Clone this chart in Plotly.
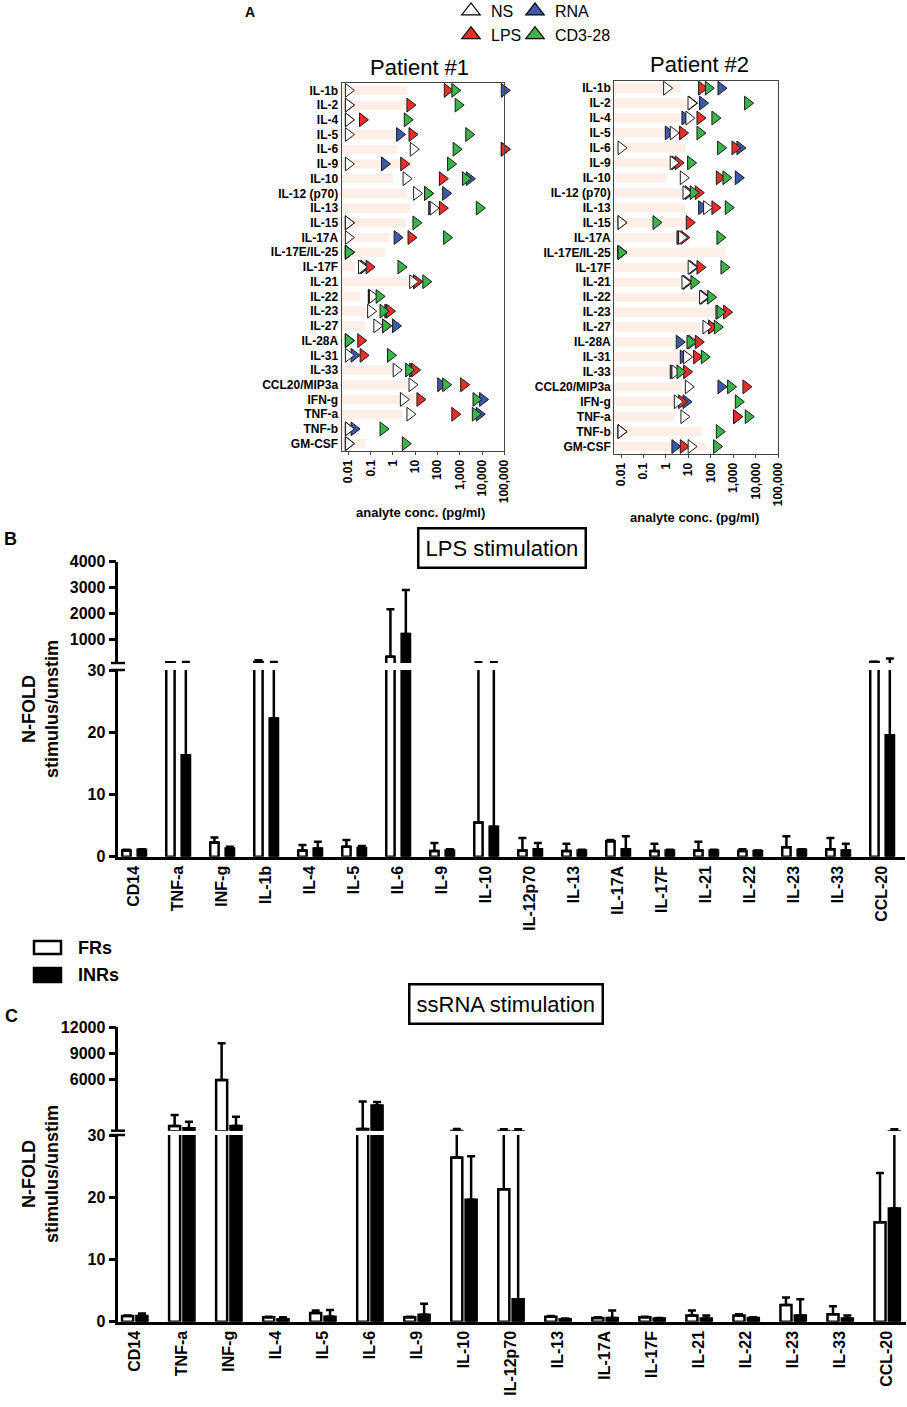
import plotly.graph_objects as go

W, H = 907, 1407

# ---- Panel A: analyte concentrations (pg/ml), rows top to bottom
analytes = ["IL-1b", "IL-2", "IL-4", "IL-5", "IL-6", "IL-9", "IL-10", "IL-12 (p70)",
            "IL-13", "IL-15", "IL-17A", "IL-17E/IL-25", "IL-17F", "IL-21", "IL-22",
            "IL-23", "IL-27", "IL-28A", "IL-31", "IL-33", "CCL20/MIP3a", "IFN-g",
            "TNF-a", "TNF-b", "GM-CSF"]

p1_ns = [0.01, 0.01, 0.01, 0.01, 8.2, 0.01, 3.9, 11.6, 64, 0.01, 0.01, 0.01, 0.039,
         7.7, 0.12, 0.10, 0.19, 0.01, 0.01, 1.4, 7.2, 2.95, 5.8, 0.01, 0.01]
p1_lps = [276, 5.8, 0.043, 7.2, 100000, 3.05, 166, 36, 166, 0.01, 6.5, 0.01, 0.085,
          11.6, 0.108, 0.70, 0.47, 0.036, 0.046, 9.4, 1500, 16.3, 600, 0.01, 0.01]
p1_rna = [100000, 0.01, 0.01, 2.0, 100000, 0.42, 2700, 233, 55, 0.01, 1.55, 0.01, 0.049,
          11.6, 0.108, 0.59, 1.3, 0.01, 0.018, 7.7, 140, 10600, 7550, 0.018, 0.01]
p1_cd3 = [600, 850, 4.4, 2540, 690, 388, 1800, 36, 7550, 10.8, 258, 0.01, 2.3,
          30, 0.24, 0.36, 0.47, 0.01, 0.78, 5.1, 233, 5370, 5000, 0.36, 3.6]
p1_range = [4.3, 5.5, None, 1.9, 1.55, 7.2, 1.0, 4.3, 6.0, 3.6, 0.70, 0.45, 0.02,
            5.5, 0.033, 0.055, 0.055, 0.014, None, 1.0, 4.6, 10, 2.75, 0.033, 0.06]

p2_ns = [1.07, 13, 10.5, 2.1, 0.01, 2.1, 5.9, 7.8, 64.5, 0.01, 5.0, 0.01, 13.2,
         7.0, 42.7, 230, 60, 13.9, 8.3, 2.5, 9.9, 3.2, 6.3, 0.01, 13.2]
p2_lps = [38.6, 13.9, 32.6, 5.5, 1180, 3.5, 237, 27.5, 151, 10.9, 6.3, 0.01, 32.6,
          8.3, 50, 501, 108, 27.5, 23.2, 8.3, 3630, 5.0, 1400, 0.01, 5.9]
p2_rna = [281, 42.7, 7.0, 1.27, 1960, 2.5, 1660, 9.9, 38.6, 0.01, 4.2, 0.01, 15.4,
          7.8, 45.8, 237, 108, 3.9, 5.9, 2.1, 281, 7.8, 1400, 0.01, 2.5]
p2_cd3 = [76.6, 4300, 151, 32.6, 271, 12.5, 468, 16.4, 594, 0.36, 253, 0.01, 381,
          17.6, 97, 253, 193, 11.7, 50.8, 4.2, 755, 1660, 4610, 237, 180]
p2_range = [4.6, 8.3, 4.2, 1.8, 7.5, 1.8, 1.07, 7.0, 7.0, 11.7, 11.7, 452, 9.9,
            4.2, 237, 180, 32.6, 45.8, 13.9, 1.5, 5.0, 3.0, 2.35, 36, 58]

conc_ticks = [0.01, 0.1, 1, 10, 100, 1000, 10000, 100000]
conc_ticktext = ["0.01", "0.1", "1", "10", "100", "1,000", "10,000", "100,000"]

# ---- Panel B: LPS stimulation, N-fold stimulus/unstim (mean, upper SD)
cats_b = ["CD14", "TNF-a", "INF-g", "IL-1b", "IL-4", "IL-5", "IL-6", "IL-9", "IL-10",
          "IL-12p70", "IL-13", "IL-17A", "IL-17F", "IL-21", "IL-22", "IL-23", "IL-33", "CCL-20"]
b_fr = [1.0, 95, 2.3, 110, 1.0, 1.6, 313, 0.9, 5.5, 1.0, 0.9, 2.5, 0.9, 1.0, 0.9, 1.5, 1.2, 110]
b_fr_err = [0.1, 5, 0.8, 70, 0.9, 1.1, 1840, 1.3, 95, 2.0, 1.2, 0.2, 1.2, 1.4, 0.3, 1.8, 1.8, 10]
b_inr = [1.1, 16.3, 1.3, 22.2, 1.3, 1.4, 1194, 1.0, 4.8, 1.2, 1.0, 1.2, 1.0, 1.0, 0.9, 1.1, 1.0, 19.5]
b_inr_err = [0.1, 94, 0.3, 88, 1.1, 0.3, 1706, 0.2, 95, 1.0, 0.1, 2.1, 0.1, 0.1, 0.1, 0.1, 1.1, 223]

# ---- Panel C: ssRNA stimulation
cats_c = ["CD14", "TNF-a", "INF-g", "IL-4", "IL-5", "IL-6", "IL-9", "IL-10", "IL-12p70",
          "IL-13", "IL-17A", "IL-17F", "IL-21", "IL-22", "IL-23", "IL-33", "CCL-20"]
c_fr = [0.9, 612, 5918, 0.7, 1.4, 266, 0.7, 26.4, 21.3, 0.8, 0.6, 0.7, 1.0, 1.0, 2.7, 1.2, 16.0]
c_fr_err = [0.1, 1270, 4230, 0.1, 0.4, 3160, 0.1, 230, 230, 0.1, 0.1, 0.1, 0.8, 0.2, 1.2, 1.3, 7.9]
c_inr = [0.9, 347, 612, 0.4, 0.8, 2970, 1.1, 19.6, 3.6, 0.4, 0.6, 0.5, 0.5, 0.6, 1.0, 0.5, 18.2]
c_inr_err = [0.4, 760, 1070, 0.3, 1.1, 410, 1.8, 7.0, 246, 0.1, 1.2, 0.1, 0.5, 0.1, 2.6, 0.5, 230]

RED, BLUE, GREEN, PINK = "#ec2d27", "#3c5aa8", "#3bb44a", "#fdeee8"
FONT = "Liberation Sans, Arial, sans-serif"
B_UPPER = [70, 4000]
C_UPPER = [70, 12000]


def fx(p):
    return p / W


def fy(p):
    return 1 - p / H


def dom_x(a, b):
    return [a / W, b / W]


def dom_y(top, bottom):
    return [1 - bottom / H, 1 - top / H]


fig = go.Figure()

# panel A: two patients
BASE = 0.001
patients = [("x", "y", p1_range, p1_ns, p1_lps, p1_rna, p1_cd3),
            ("x2", "y2", p2_range, p2_ns, p2_lps, p2_rna, p2_cd3)]
for xa, ya, rng, ns, lps, rna, cd3 in patients:
    fig.add_trace(go.Bar(y=analytes, x=[v - BASE if v else None for v in rng], base=BASE,
                         orientation="h", width=0.62, marker=dict(color=PINK, line=dict(width=0)),
                         xaxis=xa, yaxis=ya, showlegend=False, hoverinfo="skip"))
    for vals, col in [(rna, BLUE), (lps, RED), (ns, "white"), (cd3, GREEN)]:
        fig.add_trace(go.Scatter(x=vals, y=analytes, mode="markers", cliponaxis=False,
                                 marker=dict(symbol="triangle-right", size=12, color=col,
                                             line=dict(color="#1a1a1a", width=1)),
                                 xaxis=xa, yaxis=ya, showlegend=False))

# legend entries (triangles up, 2x2)
for name, col, lg in [("NS", "white", "legend"), ("LPS", RED, "legend"),
                      ("RNA", BLUE, "legend2"), ("CD3-28", GREEN, "legend2")]:
    fig.add_trace(go.Scatter(x=[None], y=[None], mode="markers", name=name, legend=lg,
                             marker=dict(symbol="triangle-up", size=16, color=col,
                                         line=dict(color="black", width=1.2)),
                             xaxis="x", yaxis="y"))


def upper_part(vals, errs, lo):
    # only bars / error bars that reach into the upper segment
    return [v if v + e > lo else None for v, e in zip(vals, errs)]


# panels B and C: broken y axis = lower and upper subplot sharing x
panels = [("x3", "y3", "y4", B_UPPER[0], cats_b, b_fr, b_fr_err, b_inr, b_inr_err, 0.19, -0.27, 0.08),
          ("x5", "y5", "y6", C_UPPER[0], cats_c, c_fr, c_fr_err, c_inr, c_inr_err, 0.235, -0.27, 0.035)]
for xa, y_lo, y_hi, lo, cats, fr, fr_err, inr, inr_err, bw, off_fr, off_inr in panels:
    for vals, err, fill, off in [(fr, fr_err, "white", off_fr), (inr, inr_err, "black", off_inr)]:
        for ya, yv in [(y_lo, vals), (y_hi, upper_part(vals, err, lo))]:
            fig.add_trace(go.Bar(
                x=cats, y=yv, width=bw, offset=off,
                marker=dict(color=fill, line=dict(color="black", width=2.5)),
                error_y=dict(type="data", array=err, arrayminus=[0] * len(err), symmetric=False,
                             color="black", thickness=2.5, width=4),
                xaxis=xa, yaxis=ya, showlegend=False, cliponaxis=True))

tf_bold = dict(family=FONT, size=16, color="black", weight="bold")
a_axis = dict(showline=True, mirror=True, linecolor="#444", linewidth=1.2, showgrid=False,
              zeroline=False)
yaxis_a = dict(a_axis, type="category", range=[len(analytes) - 0.5, -0.5], ticks="",
               tickfont=dict(family=FONT, size=12, color="black", weight="bold"))
xaxis_a = dict(a_axis, type="log", range=[-2.3, 5], tickvals=conc_ticks, ticktext=conc_ticktext,
               tickangle=-90, ticks="outside", ticklen=3, tickcolor="#444",
               tickfont=dict(family=FONT, size=12, color="black", weight="bold"))
bar_x = dict(type="category", showline=True, linecolor="black", linewidth=2.5, ticks="",
             tickangle=-90, tickfont=tf_bold, showgrid=False, zeroline=False)
bar_y = dict(showline=True, linecolor="black", linewidth=2.5, ticks="outside", ticklen=7,
             tickwidth=2.5, tickcolor="black", tickfont=tf_bold, showgrid=False, zeroline=False,
             tickformat="d")

fig.update_layout(
    width=W, height=H, margin=dict(l=0, r=0, t=0, b=0, autoexpand=False),
    paper_bgcolor="white", plot_bgcolor="rgba(0,0,0,0)", barmode="overlay",
    font=dict(family=FONT, color="black"),
    xaxis=dict(xaxis_a, domain=dom_x(341.7, 504.3), anchor="y"),
    yaxis=dict(yaxis_a, domain=dom_y(83, 451), anchor="x"),
    xaxis2=dict(xaxis_a, domain=dom_x(614.3, 778.3), anchor="y2"),
    yaxis2=dict(yaxis_a, domain=dom_y(80.7, 454), anchor="x2"),
    xaxis3=dict(bar_x, domain=dom_x(118.3, 905), anchor="y3", range=[-0.36, 17.52]),
    yaxis3=dict(bar_y, domain=dom_y(670, 856.7), anchor="x3", range=[0, 30], tickvals=[0, 10, 20, 30]),
    yaxis4=dict(bar_y, domain=dom_y(561.7, 663), anchor="x3", range=B_UPPER,
                tickvals=[1000, 2000, 3000, 4000]),
    xaxis5=dict(bar_x, domain=dom_x(118.3, 906), anchor="y5", range=[-0.35, 16.4]),
    yaxis5=dict(bar_y, domain=dom_y(1135, 1321.7), anchor="x5", range=[0, 30], tickvals=[0, 10, 20, 30]),
    yaxis6=dict(bar_y, domain=dom_y(1027.3, 1130.7), anchor="x5", range=C_UPPER,
                tickvals=[6000, 9000, 12000]),
    legend=dict(x=fx(451), y=fy(-6), xanchor="left", yanchor="top", bgcolor="rgba(0,0,0,0)",
                font=dict(family=FONT, size=16), itemsizing="trace", tracegroupgap=0),
    legend2=dict(x=fx(515), y=fy(-6), xanchor="left", yanchor="top", bgcolor="rgba(0,0,0,0)",
                 font=dict(family=FONT, size=16), itemsizing="trace", tracegroupgap=0),
)


def note(text, x, y, size, bold=False, xanchor="center", **kw):
    fig.add_annotation(text=text, x=fx(x), y=fy(y), xref="paper", yref="paper", showarrow=False,
                       xanchor=xanchor, yanchor="middle",
                       font=dict(family=FONT, size=size, color="black",
                                 weight="bold" if bold else "normal"), **kw)


note("A", 250, 12, 14, True)
note("Patient #1", 419, 67, 22)
note("Patient #2", 699, 64, 22)
note("analyte conc. (pg/ml)", 420, 512, 13, True)
note("analyte conc. (pg/ml)", 694, 517, 13, True)
note("B", 10, 539, 18, True)
note("C", 11, 1016, 18, True)
note("LPS stimulation", 501.5, 548, 22, bordercolor="black", borderwidth=2.5, borderpad=6)
note("ssRNA stimulation", 505.7, 1004, 22, bordercolor="black", borderwidth=2.5, borderpad=6)
note("N-FOLD<br>stimulus/unstim", 40, 709, 18, True, textangle=-90)
note("N-FOLD<br>stimulus/unstim", 40, 1174, 18, True, textangle=-90)
note("FRs", 76, 948, 18, True, xanchor="left")
note("INRs", 76, 975, 18, True, xanchor="left")

# group legend boxes
for y0, y1, fill in [(941, 954, "white"), (968, 982, "black")]:
    fig.add_shape(type="rect", xref="paper", yref="paper", x0=fx(34), x1=fx(61), y0=fy(y1), y1=fy(y0),
                  fillcolor=fill, line=dict(color="black", width=2.5))

# axis break marks
for yb in [663, 670, 1130.7, 1135]:
    fig.add_shape(type="line", xref="paper", yref="paper", x0=fx(111), x1=fx(125), y0=fy(yb), y1=fy(yb),
                  line=dict(color="black", width=2.5))

# page body margin would shift the figure by 8px
fig.write_html("out.html", config={"displayModeBar": False},
               post_script="document.body.style.margin = '0px';")
